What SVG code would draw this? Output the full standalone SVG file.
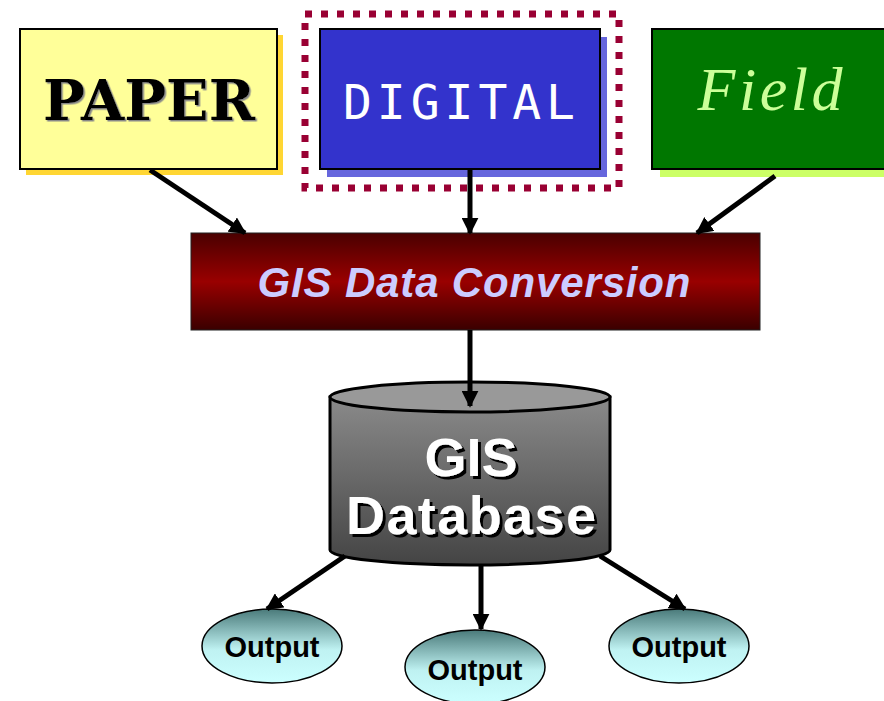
<svg xmlns="http://www.w3.org/2000/svg" width="884" height="701" viewBox="0 0 884 701">
<defs>
<linearGradient id="gConv" x1="0" y1="0" x2="0" y2="1">
<stop offset="0" stop-color="#4a0000"/><stop offset="0.5" stop-color="#990000"/><stop offset="1" stop-color="#3a0000"/>
</linearGradient>
<linearGradient id="gCyl" x1="0" y1="0" x2="0" y2="1">
<stop offset="0" stop-color="#8a8a8a"/><stop offset="1" stop-color="#444444"/>
</linearGradient>
<linearGradient id="gOut" x1="0" y1="0" x2="0" y2="1">
<stop offset="0" stop-color="#4a7a7a"/><stop offset="0.55" stop-color="#bff2f2"/><stop offset="1" stop-color="#ccffff"/>
</linearGradient>
<marker id="ah" viewBox="0 0 10 10" refX="9" refY="5" markerWidth="3.4" markerHeight="3.4" orient="auto" markerUnits="strokeWidth">
<path d="M0,0 L10,5 L0,10 z" fill="#000"/>
</marker>
<filter id="sh" x="-10%" y="-20%" width="120%" height="140%">
<feDropShadow dx="3" dy="3" stdDeviation="0" flood-color="#000"/>
</filter>
<filter id="shg" x="-10%" y="-20%" width="120%" height="140%">
<feDropShadow dx="1.5" dy="1.5" stdDeviation="0" flood-color="#888"/>
</filter>
</defs>
<style>
.box{stroke:#000;stroke-width:2}
.conn line{stroke:#000;stroke-width:5;marker-end:url(#ah)}
.out{fill:url(#gOut);stroke:#000;stroke-width:1.5}
.outT{font-family:"Liberation Sans",Arial,sans-serif;font-weight:bold;font-size:29px;fill:#000;text-anchor:middle}
</style>
<rect width="884" height="701" fill="#fff"/>
<g id="paper">
<rect x="26" y="35" width="257" height="140" fill="#ffd633"/>
<rect class="box" x="20" y="29" width="257" height="140" fill="#ffff99"/>
<text x="149" y="120" font-family="'DejaVu Serif',serif" font-weight="bold" font-size="56" text-anchor="middle" textLength="212" lengthAdjust="spacingAndGlyphs" fill="#000" filter="url(#shg)">PAPER</text>
</g>
<g id="digital">
<rect x="305" y="14" width="314" height="174" fill="none" stroke="#990033" stroke-width="7" stroke-dasharray="7 9"/>
<rect x="327" y="37" width="280" height="140" fill="#6666dd"/>
<rect class="box" x="320" y="29" width="280" height="140" fill="#3333cc"/>
<text x="459" y="119" font-family="'DejaVu Sans Mono',monospace" font-size="48" text-anchor="middle" textLength="232" fill="#fff">DIGITAL</text>
</g>
<g id="field">
<rect x="660" y="36" width="230" height="141" fill="#ccff66"/>
<rect class="box" x="652" y="29" width="240" height="140" fill="#007700"/>
<text x="770" y="110" font-family="'Liberation Serif',serif" font-style="italic" font-size="62" text-anchor="middle" textLength="145" fill="#ccff99">Field</text>
</g>
<g id="conversion">
<rect x="191" y="233" width="569" height="97" fill="url(#gConv)" stroke="#222" stroke-width="1"/>
<text x="474" y="297" font-family="'Liberation Sans',Arial,sans-serif" font-weight="bold" font-style="italic" font-size="42" text-anchor="middle" textLength="433" fill="#ccccff">GIS Data Conversion</text>
</g>
<g id="database">
<path d="M330,397 L330,550 A140,15 0 0 0 610,550 L610,397 Z" fill="url(#gCyl)" stroke="#000" stroke-width="3"/>
<ellipse cx="470" cy="397" rx="140" ry="15" fill="#999" stroke="#000" stroke-width="3"/>
<g font-family="'Liberation Sans',Arial,sans-serif" font-weight="bold" font-size="54" text-anchor="middle" fill="#fff" filter="url(#sh)">
<text x="471" y="476">GIS</text>
<text x="471" y="534" textLength="250">Database</text>
</g>
</g>
<g id="output1">
<ellipse class="out" cx="272" cy="646" rx="70" ry="37"/>
<text class="outT" x="272" y="657">Output</text>
</g>
<g id="output2">
<ellipse class="out" cx="475" cy="667" rx="70" ry="37"/>
<text class="outT" x="475" y="680">Output</text>
</g>
<g id="output3">
<ellipse class="out" cx="679" cy="646" rx="70" ry="37"/>
<text class="outT" x="679" y="657">Output</text>
</g>
<g class="conn" id="connectors">
<line x1="150" y1="170" x2="245" y2="233"/>
<line x1="470" y1="170" x2="470" y2="233"/>
<line x1="775" y1="176" x2="697" y2="233"/>
<line x1="470" y1="330" x2="470" y2="406"/>
<line x1="345" y1="556" x2="267" y2="609"/>
<line x1="481" y1="566" x2="481" y2="629"/>
<line x1="600" y1="556" x2="685" y2="609"/>
</g>
</svg>
